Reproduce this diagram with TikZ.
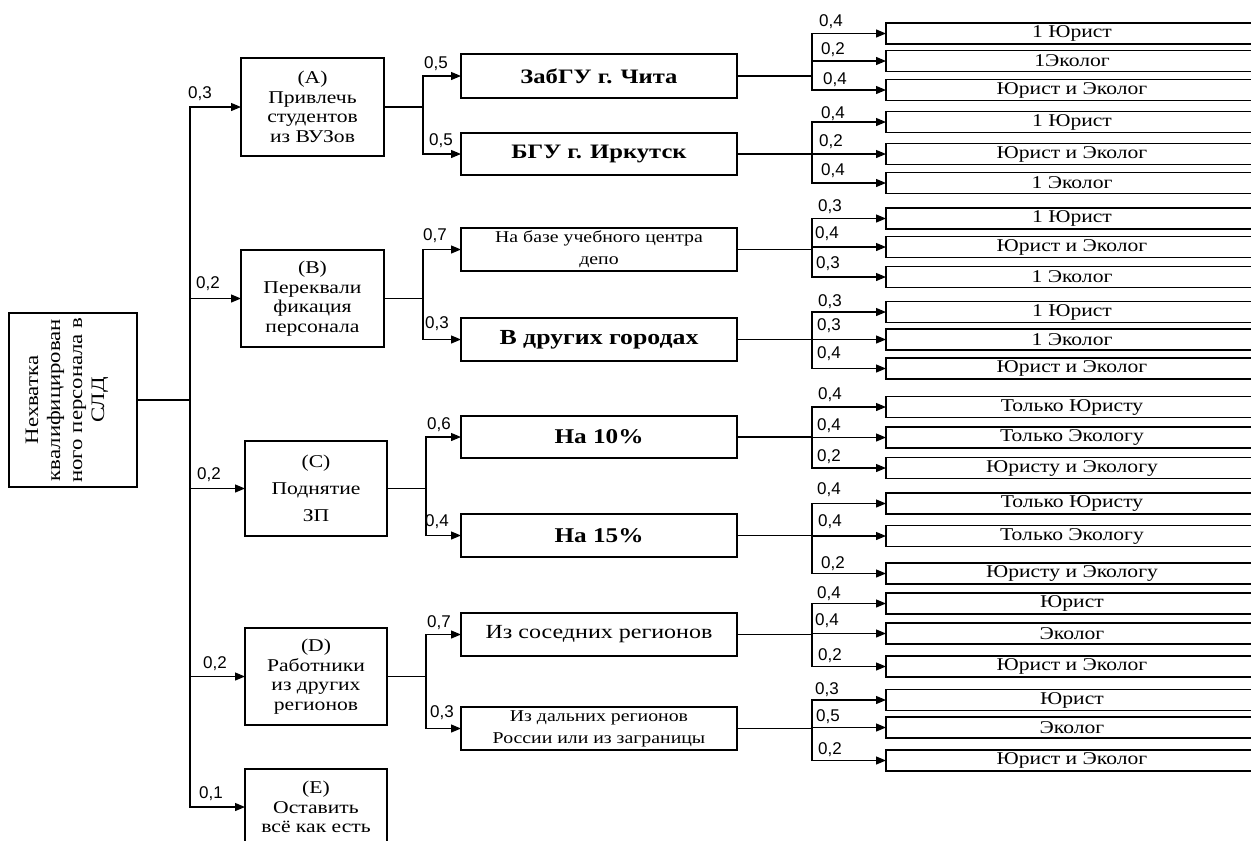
\documentclass[tikz,border=0pt]{standalone}
\usepackage{fontspec}
\setmainfont{Liberation Serif}[FakeStretch=1.2]
\newfontfamily\numfont{Liberation Sans}
\usetikzlibrary{arrows.meta}
\begin{document}
\begin{tikzpicture}[x=1pt,y=-1pt,
  box/.style={draw, line width=1.2pt, inner sep=0pt, outer sep=0pt, align=center},
  mbox/.style={box, minimum width=143, font=\fontsize{18}{19.5}\selectfont},
  sbox/.style={box, minimum width=276},
  sbold/.style={sbox, font=\bfseries\fontsize{20.5}{22}\selectfont},
  leaf/.style={box, minimum width=372, minimum height=21, font=\fontsize{18}{20}\selectfont},
  conn/.style={line width=1.2pt},
  arr/.style={conn, -{Triangle[length=10pt,width=8pt]}},
  num/.style={font=\numfont\fontsize{17}{17}\selectfont, anchor=base west, inner sep=0pt}]
\useasboundingbox (0,0) rectangle (1251,841);

% root
\node[box, minimum width=128, minimum height=174] (root) at (73,400) {};
\node[rotate=90, align=center, inner sep=0pt, font=\fontsize{19}{22}\selectfont] (rootT) at (67,400)
  {Нехватка\\квалифицирован\\ного персонала в\\СЛД};

% main alternatives
\node[mbox, minimum height=98] (A) at (312.5,107) {(A)\\Привлечь\\студентов\\из ВУЗов};
\node[mbox, minimum height=97] (B) at (312.5,298.5) {(B)\\Переквали\\фикация\\персонала};
\node[mbox, minimum width=142, minimum height=95, font=\fontsize{18}{27}\selectfont] (C) at (316,488.5) {(C)\\Поднятие\\ЗП};
\node[mbox, minimum width=142, minimum height=97] (D) at (316,676.5) {(D)\\Работники\\из других\\регионов};
\node[mbox, minimum width=142, minimum height=76] (E) at (316,807) {(E)\\Оставить\\всё как есть};

% second level
\node[sbold, minimum height=44] (a1) at (599,76) {ЗабГУ г. Чита};
\node[sbold, minimum height=42] (a2) at (599,154) {БГУ г. Иркутск};
\node[sbox, minimum height=43, font=\fontsize{16.5}{22}\selectfont] (b1) at (599,249.5) {На базе учебного центра\\депо};
\node[sbold, minimum height=43, font=\bfseries\fontsize{21.5}{22}\selectfont] (b2) at (599,339.5) {В других городах};
\node[sbold, minimum height=42, font=\bfseries\fontsize{21}{22}\selectfont] (c1) at (599,437) {На 10\%};
\node[sbold, minimum height=43, font=\bfseries\fontsize{21}{22}\selectfont] (c2) at (599,535.5) {На 15\%};
\node[sbox, minimum height=43, font=\fontsize{20}{22}\selectfont] (d1) at (599,634.5) {Из соседних регионов};
\node[sbox, minimum height=43, font=\fontsize{16.5}{22}\selectfont] (d2) at (599,728.5) {Из дальних регионов\\России или из заграницы};

% leaves
\foreach \n/\y/\t in {
  l11/33.5/{1 Юрист}, l12/61/{1Эколог}, l13/90/{Юрист и Эколог},
  l21/122/{1 Юрист}, l22/154/{Юрист и Эколог}, l23/183/{1 Эколог},
  l31/218.5/{1 Юрист}, l32/247/{Юрист и Эколог}, l33/277/{1 Эколог},
  l41/312/{1 Юрист}, l42/339.5/{1 Эколог}, l43/368.5/{Юрист и Эколог},
  l51/407/{Только Юристу}, l52/437.5/{Только Экологу}, l53/468/{Юристу и Экологу},
  l61/503.5/{Только Юристу}, l62/536/{Только Экологу}, l63/573.5/{Юристу и Экологу},
  l71/603.5/{Юрист}, l72/633.5/{Эколог}, l73/666.5/{Юрист и Эколог},
  l81/700/{Юрист}, l82/727.5/{Эколог}, l83/760.5/{Юрист и Эколог}}
  \node[leaf] (\n) at (1072,\y) {\t};

% trunk
\coordinate (T) at (190,400);
\draw[conn, line width=1.6pt] (root.east) -- (T);
\foreach \m in {A,B,C,D,E} \draw[arr] (T) |- (\m.west);
\node[num] (pA) at (188,98) {0,3};
\node[num] (pB) at (196,288) {0,2};
\node[num] (pC) at (197,479) {0,2};
\node[num] (pD) at (203,668) {0,2};
\node[num] (pE) at (199,798) {0,1};

% main -> second level
\foreach \m/\s/\t in {A/a1/a2, B/b1/b2, C/c1/c2, D/d1/d2} {
  \path (\m.east) -- ++(39,0) coordinate (j\m);
  \draw[conn] (\m.east) -- (j\m);
  \draw[arr] (j\m) |- (\s.west);
  \draw[arr] (j\m) |- (\t.west);
}
\node[num] (pa1) at (424,68) {0,5};
\node[num] (pa2) at (429,145) {0,5};
\node[num] (pb1) at (423,240) {0,7};
\node[num] (pb2) at (425,328) {0,3};
\node[num] (pc1) at (427,429) {0,6};
\node[num] (pc2) at (425,526) {0,4};
\node[num] (pd1) at (427,627) {0,7};
\node[num] (pd2) at (430,717) {0,3};

% second level -> leaves
\foreach \s/\g in {a1/1, a2/2, b1/3, b2/4, c1/5, c2/6, d1/7, d2/8} {
  \path (\s.east) -- ++(75,0) coordinate (j\g);
  \draw[conn] (\s.east) -- (j\g);
  \foreach \k in {1,2,3} \draw[arr] (j\g) |- (l\g\k.west);
}

\foreach \n/\x/\y/\t in {
  n11/819/26/{0,4}, n12/821/54/{0,2}, n13/823/84/{0,4},
  n21/821/118/{0,4}, n22/819/146/{0,2}, n23/821/175/{0,4},
  n31/818/211/{0,3}, n32/815/238/{0,4}, n33/816/268/{0,3},
  n41/818/306/{0,3}, n42/817/330/{0,3}, n43/817/358/{0,4},
  n51/818/399/{0,4}, n52/817/430/{0,4}, n53/817/461/{0,2},
  n61/817/494/{0,4}, n62/818/526/{0,4}, n63/821/568/{0,2},
  n71/817/598/{0,4}, n72/815/625/{0,4}, n73/818/660/{0,2},
  n81/815/694/{0,3}, n82/816/721/{0,5}, n83/818/754/{0,2}}
  \node[num] (\n) at (\x,\y) {\t};
\end{tikzpicture}
\end{document}
